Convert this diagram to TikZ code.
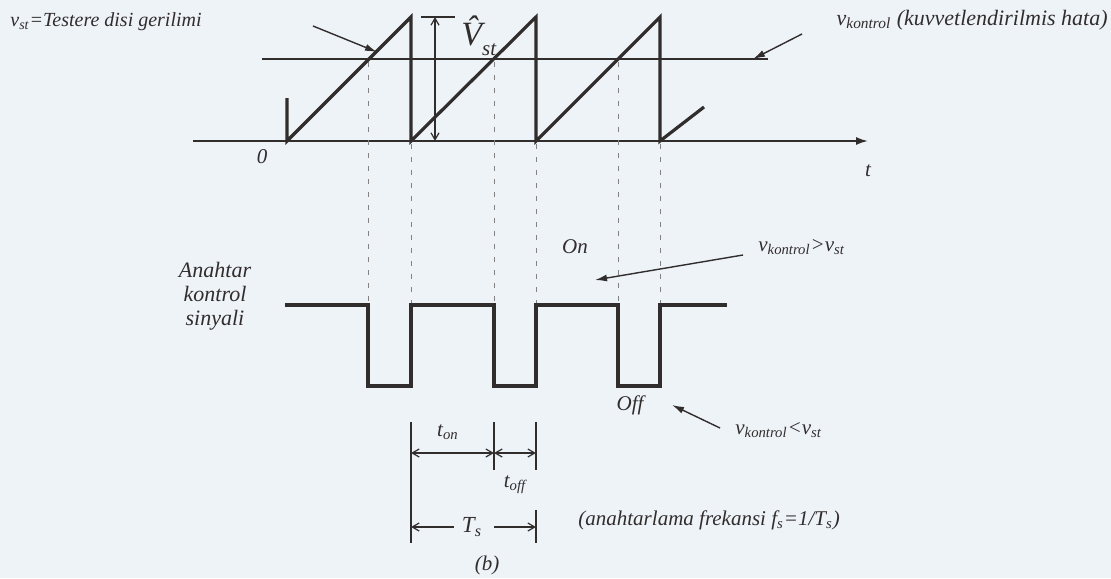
\documentclass[tikz,border=0pt]{standalone}
\usepackage{fontspec}
\setmainfont{Liberation Serif}
\usetikzlibrary{arrows.meta}

\definecolor{paper}{RGB}{238,243,248}
\definecolor{ink}{RGB}{50,45,45}

\begin{document}
\begin{tikzpicture}[
    x=0.5pt, y=-0.5pt,
    lbl/.style={inner sep=0pt, text=ink, font=\fontsize{10.5}{11.5}\selectfont\itshape},
    sawline/.style={draw=ink, line width=1.6pt},
    axisline/.style={draw=ink, line width=0.9pt},
    guide/.style={draw=ink!60, line width=0.4pt, dash pattern=on 2.5pt off 4pt},
    note/.style={draw=ink, line width=0.7pt, -{Latex[length=6pt,width=3.5pt]}},
    dimline/.style={draw=ink, line width=0.9pt},
    dimarrow/.style={draw=ink, line width=0.6pt, {Straight Barb[length=3.5pt,width=4pt]}-{Straight Barb[length=3.5pt,width=4pt]}},
    halfarrow/.style={draw=ink, line width=0.6pt, -{Straight Barb[length=3.5pt,width=4pt]}}
]
\fill[paper] (0,0) rectangle (1111,578);
\useasboundingbox (0,0) rectangle (1111,578);

% sawtooth part
\node[lbl, anchor=west, font=\fontsize{10}{11}\selectfont\itshape] (vstlabel) at (10,22) {v\textsubscript{st}=Testere disi gerilimi};
\node[lbl, anchor=east, font=\fontsize{11}{12}\selectfont\itshape] (kontrollabel) at (1108,20) {v\textsubscript{kontrol} (kuvvetlendirilmis hata)};
\coordinate (axisstart) at (193,141);
\coordinate (axisend) at (868,141);
\draw[axisline, -{Latex[length=6pt,width=4pt]}] (axisstart) -- (axisend);
\node[lbl] (zero) at (262,157) {0};
\node[lbl] (tlabel) at (868,171) {t};
\coordinate (ctrlstart) at (262,59);
\coordinate (ctrlend) at (768,59);
\draw[axisline] (ctrlstart) -- (ctrlend);
\draw[sawline] (287,98) -- (287,141) -- (411,17) -- (411,141) -- (536,17)
    -- (536,141) -- (660,17) -- (660,141) -- (704,107);

% peak amplitude
\coordinate (peaktop) at (435,17);
\coordinate (peakbot) at (435,141);
\draw[dimline, line width=0.6pt] (421,17) -- (455,17);
\draw[dimarrow] (peaktop) -- (peakbot);
\node[lbl, anchor=west] (vhat) at (461,36) {{\fontsize{17}{17}\selectfont\^{V}}\raisebox{-1.1ex}{st}};

\coordinate (sttail) at (313,26);
\coordinate (sttip) at (377,52);
\draw[note] (sttail) -- (sttip);
\coordinate (ktail) at (802,34);
\coordinate (ktip) at (753,59);
\draw[note] (ktail) -- (ktip);

% guides
\foreach \gx in {368,494,618}
    \draw[guide] (\gx,62) -- (\gx,305);
\foreach \gx in {411,536,660}
    \draw[guide] (\gx,144) -- (\gx,305);

% switch signal
\node[lbl, align=center, font=\fontsize{11}{12}\selectfont\itshape] (switchlabel) at (215,296) {Anahtar\\kontrol\\sinyali};
\draw[sawline] (285,305) -- (368,305) -- (368,386) -- (411,386) -- (411,305)
    -- (494,305) -- (494,386) -- (536,386) -- (536,305) -- (618,305) -- (618,386)
    -- (660,386) -- (660,305) -- (727,305);
\node[lbl] (onlabel) at (575,247) {On};
\node[lbl, anchor=west] (gtlabel) at (758,247) {v\textsubscript{kontrol}>v\textsubscript{st}};
\coordinate (ontail) at (743,255);
\coordinate (ontip) at (595,280);
\draw[note] (ontail) -- (ontip);
\node[lbl] (offlabel) at (630,405) {Off};
\node[lbl, anchor=west] (ltlabel) at (735,430) {v\textsubscript{kontrol}<v\textsubscript{st}};
\coordinate (offtail) at (720,428);
\coordinate (offtip) at (672,405);
\draw[note] (offtail) -- (offtip);

% timing
\draw[dimline] (411,422) -- (411,543);
\draw[dimline] (494,422) -- (494,470);
\draw[dimline] (536,422) -- (536,470);
\draw[dimline] (536,510) -- (536,543);
\coordinate (onA) at (411,453);
\coordinate (onB) at (494,453);
\coordinate (offB) at (536,453);
\draw[dimarrow] (onA) -- (onB);
\draw[dimarrow] (onB) -- (offB);
\node[lbl] (tonlabel) at (448,432) {t\textsubscript{on}};
\node[lbl] (tofflabel) at (515,485) {t\textsubscript{off}};
\node[lbl, font=\fontsize{11.5}{12}\selectfont\itshape] (tslabel) at (472,527) {T\textsubscript{s}};
\coordinate (tsA) at (411,527);
\coordinate (tsB) at (536,527);
\draw[halfarrow] (tslabel.west) ++(-8,0) -- (tsA);
\draw[halfarrow] (tslabel.east) ++(12,0) -- (tsB);
\node[lbl] (blabel) at (487,565) {(b)};
\node[lbl, anchor=west] (freqlabel) at (578,520) {(anahtarlama frekansi f\textsubscript{s}=1/T\textsubscript{s})};
\end{tikzpicture}
\end{document}
